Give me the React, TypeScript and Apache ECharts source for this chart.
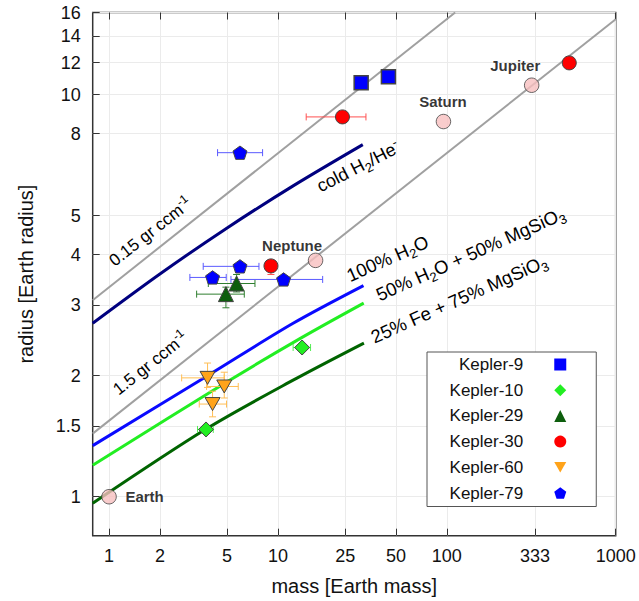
import React, { useEffect, useRef } from "react";
import * as echarts from "echarts";

// ---------- axes ----------
const X_TICKS = [1, 2, 5, 10, 25, 50, 100, 333, 1000];
const Y_TICKS = [1, 1.5, 2, 3, 4, 5, 8, 10, 12, 14, 16];
const X_MIN = 0.8;
const X_MAX = 1000;
const Y_MIN = 0.8;
const Y_MAX = 16;

// ---------- model curves: [mass, radius] ----------
const DENSITY_015 = [[0.8, 3.08], [112, 16]];
const DENSITY_15 = [[0.8, 1.435], [1000, 15.4]];
const COLD_H2HE = [[0.8, 2.7], [2, 3.58], [5, 4.66], [12.3, 5.93], [31.8, 7.51]];
const WATER_100 = [[0.8, 1.34], [3.83, 2.0], [12.3, 2.7], [32.1, 3.35]];
const WATER_50 = [[0.8, 1.198], [4.81, 1.912], [13.9, 2.49], [32.2, 3.03]];
const ROCK_FE25 = [[0.8, 0.963], [3.75, 1.473], [12.3, 1.949], [32.3, 2.41]];

// ---------- planets: [mass, radius, massLo, massHi, radiusLo, radiusHi] ----------
type Row = (number | null)[];
const KEPLER_9: Row[] = [
  [31.1, 10.7, null, null, null, null],
  [45.1, 11.08, null, null, null, null],
];
const KEPLER_10: Row[] = [
  [3.75, 1.47, 3.34, 4.14, null, null],
  [13.9, 2.35, 12.3, 15.6, null, null],
];
const KEPLER_29: Row[] = [
  [5.69, 3.39, 3.87, 7.31, 3.23, 3.57],
  [4.92, 3.19, 3.3, 6.32, 2.95, 3.32],
];
const KEPLER_30: Row[] = [
  [24.1, 8.8, 14.7, 33.2, null, null],
  [9.09, 3.75, null, null, 3.57, 3.87],
  [531, 11.99, null, null, null, null],
];
const KEPLER_60: Row[] = [
  [3.83, 1.975, 2.69, 4.81, 1.87, 2.15],
  [4.81, 1.88, 3.78, 5.82, 1.76, 2.04],
  [4.1, 1.7, 3.42, 4.96, 1.58, 1.83],
];
const KEPLER_79: Row[] = [
  [5.96, 7.17, 4.39, 8.11, null, null],
  [5.96, 3.74, 3.61, 7.72, null, null],
  [4.1, 3.51, 3.01, 4.94, null, null],
  [10.8, 3.47, 5.27, 18.4, null, null],
];
const SOLAR_NAMES = ["Earth", "Neptune", "Saturn", "Jupiter"];
const SOLAR_MASS = [1, 16.7, 95.5, 318];
const SOLAR_RADIUS = [1, 3.87, 8.57, 10.55];
const LEGEND_NAMES = ["Kepler-9", "Kepler-10", "Kepler-29", "Kepler-30", "Kepler-60", "Kepler-79"];

const FONT = "'Liberation Sans', Arial, Helvetica, sans-serif";
const LEGEND_FONT_SIZE = 17;
const LEGEND_TEXT_BOX = 80;
const lg = Math.log10;
const toLog = (pts: number[][]) => pts.map(([m, r]) => [lg(m), lg(r)]);
const nz = (v: number | null) => (v == null ? NaN : lg(v));
const toErr = (rows: Row[]) =>
  rows.map((r) => [lg(r[0] as number), lg(r[1] as number), nz(r[2]), nz(r[3]), nz(r[4]), nz(r[5])]);
const toPts = (rows: Row[]) => rows.map((r) => [lg(r[0] as number), lg(r[1] as number)]);

const PENTAGON = "path://M0,-10L9.511,-3.09L5.878,8.09L-5.878,8.09L-9.511,-3.09Z";
const TRI_DOWN = "path://M-10,-8.66L10,-8.66L0,8.66Z";

let measureCtx: CanvasRenderingContext2D | null = null;
const measure = (text: string, size: number) => {
  if (!measureCtx) measureCtx = document.createElement("canvas").getContext("2d");
  if (!measureCtx) return text.length * size * 0.5;
  measureCtx.font = `${size}px ${FONT}`;
  return measureCtx.measureText(text).width;
};

const fmtTick = (ticks: number[]) => (v: number) => {
  for (const t of ticks) if (Math.abs(lg(t) - v) < 1e-6) return String(t);
  return "";
};

const makeErr = (color: string) => (_p: any, api: any) => {
  const x = api.value(0), y = api.value(1);
  const xl = api.value(2), xh = api.value(3), yl = api.value(4), yh = api.value(5);
  const kids: any[] = [];
  const st = { stroke: color, lineWidth: 1, fill: null };
  const cap = 3.5;
  const seg = (x1: number, y1: number, x2: number, y2: number) =>
    kids.push({ type: "line", shape: { x1, y1, x2, y2 }, style: st });
  if (isFinite(xl) && isFinite(xh)) {
    const a = api.coord([xl, y]), b = api.coord([xh, y]);
    seg(a[0], a[1], b[0], b[1]);
    seg(a[0], a[1] - cap, a[0], a[1] + cap);
    seg(b[0], b[1] - cap, b[0], b[1] + cap);
  }
  if (isFinite(yl) && isFinite(yh)) {
    const a = api.coord([x, yl]), b = api.coord([x, yh]);
    seg(a[0], a[1], b[0], b[1]);
    seg(a[0] - cap, a[1], a[0] + cap, a[1]);
    seg(b[0] - cap, b[1], b[0] + cap, b[1]);
  }
  return { type: "group", children: kids };
};

const richFor = (s: number) => ({
  m: { fontSize: s, lineHeight: Math.round(s * 1.35), verticalAlign: "middle", fontFamily: FONT, fill: "#000", color: "#000" },
  sub: { fontSize: Math.round(s * 0.7), lineHeight: Math.round(s * 0.55), verticalAlign: "bottom", fontFamily: FONT, fill: "#000", color: "#000" },
  sup: { fontSize: Math.round(s * 0.7), lineHeight: Math.round(s * 0.75), verticalAlign: "top", fontFamily: FONT, fill: "#000", color: "#000" },
});

const ANNOTATIONS = [
  { text: "{m|0.15 gr ccm}{sup|-1}", x: 150.5, y: 232, angle: 38, size: 17 },
  { text: "{m|1.5 gr ccm}{sup|-1}", x: 150.5, y: 363.5, angle: 38.5, size: 17 },
  { text: "{m|cold H}{sub|2}{m|/He}{sup|-}", x: 358.3, y: 166.7, angle: 27, size: 18 },
  { text: "{m|100% H}{sub|2}{m|O}", x: 387.5, y: 258.5, angle: 24, size: 18.5 },
  { text: "{m|50% H}{sub|2}{m|O + 50% MgSiO}{sub|3}", x: 470.5, y: 254, angle: 24, size: 18.5 },
  { text: "{m|25% Fe + 75% MgSiO}{sub|3}", x: 459, y: 299, angle: 24, size: 18.5 },
];

const SOLAR_LABEL_OFFSETS = [[35.5, 0], [-23.5, -15], [-0.5, -20], [-16.4, -20]];

export default function App() {
  const ref = useRef<HTMLDivElement>(null);
  useEffect(() => {
    if (!ref.current) return;
    const chart = echarts.init(ref.current, null, { renderer: "svg" });

    const curve = (data: number[][], color: string, width: number, smooth: number | boolean = 0.3) => ({
      type: "line",
      data: toLog(data),
      showSymbol: false,
      symbol: "none",
      smooth,
      silent: true,
      lineStyle: { color, width },
      z: 2,
    });
    const errSeries = (rows: Row[], color: string) => ({
      type: "custom",
      name: "err",
      data: toErr(rows),
      renderItem: makeErr(color),
      encode: { x: 0, y: 1 },
      silent: true,
      z: 3,
    });
    const markerStyle = (color: string, bw = 1) => ({ color, borderColor: "#444", borderWidth: bw, opacity: 1 });
    const pts = (name: string, rows: Row[], color: string, symbol: string, size: number, bw = 1) => ({
      type: "scatter",
      name,
      data: toPts(rows),
      symbol,
      symbolSize: size,
      symbolKeepAspect: true,
      itemStyle: markerStyle(color, bw),
      z: 5,
    });

    const xTickVals = X_TICKS.map(lg);
    const yTickVals = Y_TICKS.map(lg);

    const option: any = {
      animation: false,
      backgroundColor: "#fff",
      textStyle: { fontFamily: FONT },
      grid: {
        left: 92.7,
        right: 23.3,
        top: 12.5,
        bottom: 65.3,
        show: true,
        borderColor: "#333",
        borderWidth: 1.5,
        backgroundColor: "transparent",
        containLabel: false,
      },
      xAxis: [
        {
          type: "value",
          min: lg(X_MIN),
          max: lg(X_MAX),
          position: "bottom",
          axisLine: { show: false, onZero: false },
          axisTick: { show: true, inside: true, length: 7, customValues: xTickVals, lineStyle: { color: "#333", width: 1 } },
          axisLabel: { customValues: xTickVals, formatter: fmtTick(X_TICKS), fontSize: 18, margin: 11, color: "#111", fontFamily: FONT },
          splitLine: { show: true, lineStyle: { color: "#ebebeb", width: 1 } },
          name: "mass [Earth mass]",
          nameLocation: "middle",
          nameGap: 40,
          nameTextStyle: { fontSize: 20, color: "#111", fontFamily: FONT },
        },
        {
          type: "value",
          min: lg(X_MIN),
          max: lg(X_MAX),
          position: "top",
          axisLine: { show: false, onZero: false },
          axisTick: { show: true, inside: true, length: 7, customValues: xTickVals, lineStyle: { color: "#333", width: 1 } },
          axisLabel: { show: false },
          splitLine: { show: false },
        },
      ],
      yAxis: [
        {
          type: "value",
          min: lg(Y_MIN),
          max: lg(Y_MAX),
          position: "left",
          axisLine: { show: false, onZero: false },
          axisTick: { show: true, inside: true, length: 7, customValues: yTickVals, lineStyle: { color: "#333", width: 1 } },
          axisLabel: { customValues: yTickVals, formatter: fmtTick(Y_TICKS), fontSize: 18, margin: 12, color: "#111", fontFamily: FONT },
          splitLine: { show: true, lineStyle: { color: "#ebebeb", width: 1 } },
          name: "radius [Earth radius]",
          nameLocation: "middle",
          nameGap: 57,
          nameTextStyle: { fontSize: 20, color: "#111", fontFamily: FONT },
        },
      ],
      legend: {
        orient: "vertical",
        left: 427,
        top: 352,
        align: "right",
        padding: [4, 30, 5, 16],
        itemGap: 8.7,
        itemWidth: 12,
        itemHeight: 12,
        backgroundColor: "#fff",
        borderColor: "#555",
        borderWidth: 1,
        selectedMode: false,
        itemStyle: { borderWidth: 0 },
        formatter: (name: string) => {
          const pad = Math.max(1, LEGEND_TEXT_BOX - measure(name, LEGEND_FONT_SIZE));
          return `{p|${"\u00a0"}}{n|${name}}{s|${"\u00a0"}}`.replace("{p|", `{p${Math.round(pad)}|`);
        },
        textStyle: {
          rich: Object.assign(
            {
              n: { fontSize: LEGEND_FONT_SIZE, lineHeight: 20, color: "#111", fontFamily: FONT },
              s: { width: 26, fontSize: LEGEND_FONT_SIZE, lineHeight: 20 },
            },
            Object.fromEntries(
              Array.from({ length: 81 }, (_, i) => [`p${i}`, { width: i, fontSize: LEGEND_FONT_SIZE, lineHeight: 20 }])
            )
          ),
        },
        data: LEGEND_NAMES.map((n) => (n === "Kepler-60" ? { name: n, icon: TRI_DOWN } : { name: n })),
        z: 10,
      },
      series: [
        curve(DENSITY_015, "#a0a0a0", 2, false),
        curve(DENSITY_15, "#a0a0a0", 2, false),
        curve(COLD_H2HE, "#00007f", 3, 0.3),
        curve(WATER_100, "#0a0aff", 3, 0.3),
        curve(WATER_50, "#22ee22", 3, 0.3),
        curve(ROCK_FE25, "#006400", 3, 0.3),
        errSeries(KEPLER_10, "#55ee55"),
        errSeries(KEPLER_29, "#2f7f2f"),
        errSeries(KEPLER_30, "#ff5050"),
        errSeries(KEPLER_60, "#ffbe55"),
        errSeries(KEPLER_79, "#5a5aff"),
        {
          type: "scatter",
          name: "solar",
          data: SOLAR_NAMES.map((n, i) => ({
            name: n,
            value: [lg(SOLAR_MASS[i]), lg(SOLAR_RADIUS[i])],
            label: { offset: SOLAR_LABEL_OFFSETS[i] },
          })),
          symbol: "circle",
          symbolSize: 14.5,
          itemStyle: { color: "#f8bfbf", borderColor: "#444", borderWidth: 1 },
          label: {
            show: true,
            position: "inside",
            formatter: "{b}",
            fontSize: 15,
            fontWeight: "bold",
            color: "#000",
            textBorderWidth: 0,
            textBorderColor: "transparent",
            fontFamily: FONT,
          },
          z: 5,
        },
        pts("Kepler-9", KEPLER_9, "#0000ff", "rect", 14, 1.5),
        pts("Kepler-10", KEPLER_10, "#22ee22", "diamond", 15),
        pts("Kepler-29", KEPLER_29, "#0d5e0d", "triangle", 15),
        pts("Kepler-30", KEPLER_30, "#ff0000", "circle", 14),
        pts("Kepler-60", KEPLER_60, "#ffa31a", TRI_DOWN, 15),
        pts("Kepler-79", KEPLER_79, "#0000ff", PENTAGON, 14),
      ],
      graphic: ANNOTATIONS.map((a) => ({
        type: "text",
        x: a.x,
        y: a.y,
        rotation: (a.angle * Math.PI) / 180,
        silent: true,
        z: 20,
        style: {
          text: a.text,
          rich: richFor(a.size),
          align: "center",
          verticalAlign: "middle",
          fill: "#000",
          fontFamily: FONT,
          fontSize: a.size,
        },
      })),
    };
    chart.setOption(option);
    return () => chart.dispose();
  }, []);
  return <div ref={ref} style={{ width: 639, height: 601, position: "absolute", left: 0, top: 0 }} />;
}
